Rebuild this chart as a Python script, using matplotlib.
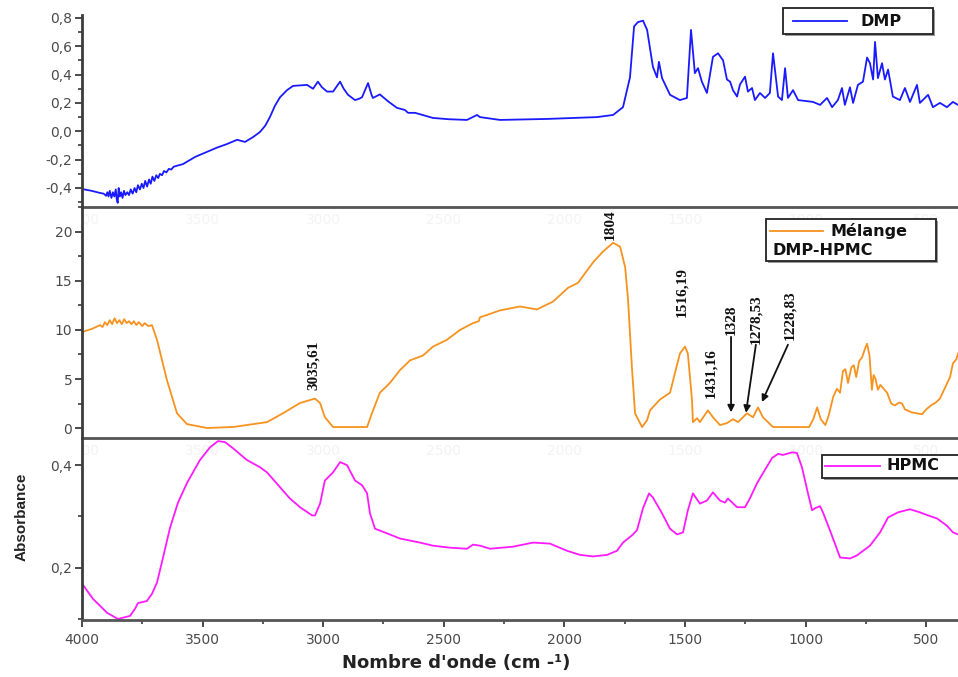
import matplotlib
matplotlib.use("Agg")
import matplotlib.pyplot as plt
from matplotlib.ticker import MultipleLocator, FuncFormatter
from matplotlib.patches import Rectangle
from matplotlib.lines import Line2D
import matplotlib.transforms as mtransforms

# ---------------- data ----------------
dmp_w = [4000, 3960, 3925, 3910, 3900, 3895, 3890, 3885, 3878, 3872, 3866, 3860, 3856, 3852,
         3848, 3843, 3838, 3832, 3826, 3820, 3812, 3805, 3798, 3790, 3782, 3775, 3768, 3760,
         3752, 3745, 3738, 3730, 3722, 3715, 3708, 3700, 3692, 3684, 3677, 3668, 3660, 3650,
         3640, 3630, 3620, 3600, 3582, 3565, 3530, 3482, 3440, 3399, 3357, 3324, 3290, 3262,
         3240, 3221, 3200, 3179, 3150, 3125, 3067, 3042, 3022, 3005, 2984, 2959, 2930, 2915,
         2897, 2868, 2850, 2839, 2814, 2800, 2794, 2765, 2730, 2694, 2661, 2648, 2619, 2545,
         2480, 2404, 2362, 2350, 2267, 2072, 1865, 1798, 1757, 1728, 1711, 1695, 1674, 1657,
         1633, 1616, 1608, 1595, 1562, 1521, 1492, 1475, 1459, 1446, 1430, 1409, 1384, 1363,
         1342, 1326, 1313, 1301, 1284, 1272, 1251, 1239, 1222, 1210, 1189, 1168, 1148, 1135,
         1114, 1098, 1085, 1073, 1052, 1031, 969, 940, 911, 890, 866, 849, 837, 816, 803, 783,
         762, 745, 733, 720, 712, 700, 683, 671, 658, 638, 609, 588, 567, 538, 526, 492, 472,
         443, 414, 389, 368]
dmp_a = [-0.407, -0.42, -0.435, -0.44, -0.455, -0.43, -0.46, -0.42, -0.47, -0.43, -0.46, -0.41,
         -0.48, -0.505, -0.40, -0.46, -0.43, -0.47, -0.42, -0.45, -0.43, -0.45, -0.41, -0.44,
         -0.40, -0.43, -0.38, -0.41, -0.37, -0.40, -0.35, -0.39, -0.34, -0.37, -0.32, -0.35,
         -0.31, -0.33, -0.30, -0.31, -0.28, -0.29, -0.265, -0.27, -0.25, -0.24, -0.232, -0.215,
         -0.18, -0.145, -0.115, -0.09, -0.06, -0.075, -0.04, -0.005, 0.04, 0.10, 0.18, 0.24,
         0.29, 0.32, 0.327, 0.30, 0.35, 0.31, 0.28, 0.28, 0.35, 0.30, 0.257, 0.22, 0.23, 0.24,
         0.34, 0.26, 0.235, 0.26, 0.21, 0.165, 0.15, 0.13, 0.13, 0.094, 0.085, 0.08, 0.115,
         0.10, 0.08, 0.087, 0.10, 0.115, 0.17, 0.38, 0.74, 0.77, 0.78, 0.715, 0.455, 0.38,
         0.49, 0.375, 0.257, 0.22, 0.235, 0.715, 0.41, 0.445, 0.35, 0.27, 0.525, 0.55, 0.50,
         0.365, 0.35, 0.29, 0.245, 0.33, 0.385, 0.28, 0.305, 0.22, 0.27, 0.235, 0.27, 0.55,
         0.245, 0.22, 0.445, 0.235, 0.29, 0.22, 0.207, 0.186, 0.235, 0.17, 0.22, 0.305, 0.186,
         0.31, 0.20, 0.327, 0.35, 0.52, 0.48, 0.365, 0.63, 0.375, 0.48, 0.365, 0.435, 0.245,
         0.22, 0.305, 0.207, 0.327, 0.20, 0.257, 0.17, 0.20, 0.17, 0.207, 0.186]

mix_w = [4000, 3960, 3925, 3915, 3905, 3895, 3885, 3875, 3865, 3855, 3845, 3835, 3825, 3815,
         3805, 3795, 3785, 3775, 3765, 3750, 3740, 3725, 3710, 3689, 3648, 3606, 3565, 3482,
         3374, 3233, 3167, 3096, 3034, 3013, 2993, 2959, 2818, 2798, 2765, 2723, 2682, 2640,
         2586, 2545, 2487, 2433, 2379, 2355, 2350, 2337, 2267, 2184, 2114, 2047, 1985, 1944,
         1881, 1840, 1798, 1769, 1748, 1736, 1720, 1707, 1678, 1657, 1645, 1604, 1562, 1521,
         1500, 1488, 1471, 1467, 1450, 1438, 1405, 1384, 1355, 1326, 1301, 1280, 1243, 1218,
         1197, 1177, 1135, 985, 968, 952, 937, 918, 905, 885, 870, 857, 845, 835, 824, 810,
         800, 790, 778, 766, 752, 745, 735, 725, 718, 710, 700, 690, 676, 662, 645, 630, 612,
         600, 588, 560, 517, 500, 480, 460, 443, 420, 401, 389, 375, 368]
mix_a = [9.8, 10.1, 10.5, 10.3, 10.8, 10.5, 11.0, 10.6, 11.2, 10.7, 11.0, 10.6, 11.1, 10.7,
         10.9, 10.6, 10.9, 10.5, 10.8, 10.4, 10.7, 10.4, 10.5, 9.0, 4.9, 1.5, 0.4, 0.0,
         0.1, 0.6, 1.5, 2.55, 3.0, 2.55, 1.1, 0.1, 0.1, 1.5, 3.6, 4.6, 5.9, 6.9,
         7.4, 8.3, 9.0, 10.0, 10.7, 10.9, 11.3, 11.4, 12.0, 12.4, 12.1, 12.9, 14.3, 14.8,
         16.9, 18.0, 18.9, 18.5, 16.4, 13.1, 6.2, 1.5, 0.1, 0.8, 1.8, 2.9, 3.6, 7.6,
         8.3, 7.6, 2.9, 0.6, 1.0, 0.6, 1.8, 1.1, 0.3, 0.5, 0.9, 0.6, 1.5, 1.1,
         2.1, 1.1, 0.1, 0.1, 0.9, 2.1, 0.9, 0.3, 1.2, 3.2, 4.0, 3.6, 5.8, 6.0, 4.6, 6.2,
         6.4, 5.2, 6.8, 7.2, 8.2, 8.6, 7.4, 3.9, 5.4, 5.0, 3.9, 4.4, 4.0, 3.6, 2.5, 2.3, 2.6,
         2.5, 1.9, 1.6, 1.4, 1.9, 2.3, 2.6, 3.0, 4.2, 5.2, 6.6, 7.0, 7.6]

hpmc_w = [4000, 3954, 3896, 3851, 3801, 3780, 3768, 3731, 3710, 3689, 3664, 3635, 3602, 3565,
          3511, 3469, 3436, 3407, 3374, 3316, 3262, 3233, 3179, 3138, 3096, 3046, 3034, 3013,
          2993, 2959, 2930, 2901, 2868, 2839, 2818, 2806, 2785, 2735, 2682, 2599, 2545, 2474,
          2404, 2379, 2350, 2308, 2213, 2130, 2060, 1989, 1935, 1881, 1823, 1782, 1757, 1720,
          1699, 1674, 1649, 1633, 1595, 1562, 1533, 1508, 1488, 1467, 1438, 1409, 1384, 1355,
          1334, 1322, 1284, 1251, 1231, 1201, 1177, 1139, 1114, 1094, 1056, 1036, 1015, 990,
          973, 961, 940, 928, 899, 857, 816, 787, 733, 691, 658, 617, 567, 526, 492, 455,
          414, 389, 368]
hpmc_a = [0.169, 0.139, 0.112, 0.100, 0.106, 0.12, 0.131, 0.135, 0.149, 0.171, 0.22, 0.278,
          0.327, 0.365, 0.41, 0.435, 0.447, 0.445, 0.433, 0.41, 0.396, 0.386, 0.357, 0.335,
          0.318, 0.302, 0.302, 0.325, 0.37, 0.386, 0.406, 0.40, 0.37, 0.361, 0.345, 0.306,
          0.276, 0.267, 0.257, 0.249, 0.243, 0.239, 0.237, 0.245, 0.243, 0.237, 0.241, 0.249,
          0.247, 0.233, 0.225, 0.222, 0.225, 0.233, 0.249, 0.263, 0.273, 0.316, 0.345, 0.337,
          0.306, 0.276, 0.265, 0.269, 0.312, 0.345, 0.325, 0.331, 0.347, 0.331, 0.327, 0.335,
          0.318, 0.318, 0.335, 0.365, 0.384, 0.414, 0.422, 0.42, 0.425, 0.424, 0.396, 0.345,
          0.312, 0.316, 0.32, 0.308, 0.273, 0.22, 0.218, 0.224, 0.243, 0.269, 0.298, 0.308,
          0.314, 0.308, 0.302, 0.296, 0.282, 0.269, 0.265]

peak_labels = ["3035,61", "1804", "1516,19", "1431,16", "1328", "1278,53", "1228,83"]
peak_label_w = [3042, 1811, 1512, 1392, 1309, 1206, 1065]
peak_label_a = [6.4, 20.7, 13.9, 5.6, 11.0, 11.1, 11.5]
arrow_tail_w = [1309, 1206, 1073]
arrow_tail_a = [9.3, 8.5, 8.5]
arrow_head_w = [1309, 1247, 1181]
arrow_head_a = [1.6, 1.55, 2.65]

xticks = [4000, 3500, 3000, 2500, 2000, 1500, 1000, 500]

# ---------------- figure ----------------
W, H = 958, 677
fig = plt.figure(figsize=(W / 100, H / 100), dpi=100)


def fx(px):
    return px / W


def fy(py):
    return 1 - py / H


left = 82
ax1 = fig.add_axes([fx(left), fy(207), 1 - fx(left), (207 - 15) / H])
ax2 = fig.add_axes([fx(left), fy(438), 1 - fx(left), (438 - 207) / H])
ax3 = fig.add_axes([fx(left), fy(620), 1 - fx(left), (620 - 438) / H])

BLUE = "#1a1aff"
ORANGE = "#f7921e"
MAGENTA = "#ff1aff"
SPINE = "#3c3c3c"
TICKC = "#4a4a4a"

ax1.plot(dmp_w, dmp_a, color=BLUE, lw=1.3)
ax2.plot(mix_w, mix_a, color=ORANGE, lw=1.3)
ax3.plot(hpmc_w, hpmc_a, color=MAGENTA, lw=1.3)

ax1.set_ylim(-0.534, 0.82)
ax2.set_ylim(-1.02, 22.55)
ax3.set_ylim(0.098, 0.453)

comma = FuncFormatter(lambda v, p: ("%.1f" % v).replace(".", ",").replace("\u2212", "-"))
ax1.yaxis.set_major_locator(MultipleLocator(0.2))
ax1.yaxis.set_minor_locator(MultipleLocator(0.1))
ax1.yaxis.set_major_formatter(comma)
ax2.yaxis.set_major_locator(MultipleLocator(5))
ax2.yaxis.set_minor_locator(MultipleLocator(2.5))
ax2.yaxis.set_major_formatter(FuncFormatter(lambda v, p: "%d" % v))
ax3.yaxis.set_major_locator(MultipleLocator(0.2))
ax3.yaxis.set_minor_locator(MultipleLocator(0.1))
ax3.yaxis.set_major_formatter(comma)

for ax in (ax1, ax2, ax3):
    ax.set_xlim(4000, 368)
    ax.set_facecolor("none")
    ax.spines["top"].set_visible(False)
    ax.spines["right"].set_visible(False)
    ax.spines["left"].set_color(SPINE)
    ax.spines["left"].set_linewidth(2.0)
    ax.spines["bottom"].set_color("#555555")
    ax.spines["bottom"].set_linewidth(2.0)
    ax.tick_params(axis="y", which="major", direction="out", length=5, width=1.3,
                   color=SPINE, labelsize=10, labelcolor=TICKC, pad=2)
    ax.tick_params(axis="y", which="minor", direction="out", length=3, width=1.2, color=SPINE)

for ax in (ax1, ax2):
    ax.tick_params(axis="x", which="both", bottom=False, labelbottom=False)

ax3.set_xticks(xticks)
ax3.xaxis.set_minor_locator(MultipleLocator(250))
ax3.tick_params(axis="x", which="major", direction="out", length=5, width=1.3,
                color=SPINE, labelsize=10, labelcolor=TICKC, pad=4)
ax3.tick_params(axis="x", which="minor", direction="out", length=3, width=1.2, color=SPINE)

# faint ghost tick labels at the top of the lower panels
for ax, hpx in ((ax2, 231), (ax3, 182)):
    tr = mtransforms.blended_transform_factory(ax.transData, ax.transAxes)
    for w in xticks:
        ax.text(w, 1 - 13 / hpx, str(w), transform=tr, ha="center", va="center",
                fontsize=10, color="#f3f3f3", zorder=0, clip_on=True)

# peak labels and arrows
for lab, w, a in zip(peak_labels, peak_label_w, peak_label_a):
    ax2.text(w, a, lab, rotation=90, ha="center", va="center", fontsize=11,
             family=["Liberation Serif", "DejaVu Serif"], fontweight="bold", color="#111111")
for tw, ta, hw, ha_ in zip(arrow_tail_w, arrow_tail_a, arrow_head_w, arrow_head_a):
    ax2.annotate("", xy=(hw, ha_), xytext=(tw, ta),
                 arrowprops=dict(arrowstyle="-|>", color="#111111", lw=1.3,
                                 mutation_scale=10, shrinkA=0, shrinkB=0))

# axis labels
fig.text(fx(22), fy(517), "Absorbance", rotation=90, ha="center", va="center",
         fontsize=11, fontweight="bold", family=["Liberation Sans", "DejaVu Sans"],
         color="#222222")
fig.text(fx(456), fy(663), "Nombre d'onde (cm -\u00b9)", ha="center", va="center",
         fontsize=13, fontweight="bold", family=["DejaVu Sans"], color="#222222")


# legend boxes
def legend_box(x0, y0, x1, y1):
    sh = Rectangle((fx(x0 + 2), fy(y1 + 2)), fx(x1 - x0), (y1 - y0) / H,
                   transform=fig.transFigure, facecolor="#9a9a9a", edgecolor="none", zorder=5)
    bx = Rectangle((fx(x0), fy(y1)), fx(x1 - x0), (y1 - y0) / H,
                   transform=fig.transFigure, facecolor="white", edgecolor="#222222",
                   lw=1.3, zorder=6)
    fig.add_artist(sh)
    fig.add_artist(bx)


def legend_line(x0, x1, y, color):
    fig.add_artist(Line2D([fx(x0), fx(x1)], [fy(y), fy(y)], transform=fig.transFigure,
                          color=color, lw=1.3, zorder=7))


def legend_text(x, y, s):
    fig.text(fx(x), fy(y), s, ha="left", va="center", fontsize=11.5, fontweight="bold",
             color="#111111", zorder=8, family=["DejaVu Sans"])


legend_box(783, 8, 933, 34)
legend_line(793, 847, 21, BLUE)
legend_text(860, 21, "DMP")

legend_box(766, 219, 936, 261)
legend_line(770, 823, 231, ORANGE)
legend_text(830, 231, "Mélange")
legend_text(772, 250, "DMP-HPMC")

legend_box(822, 455, 962, 478)
legend_line(825, 880, 466, MAGENTA)
legend_text(887, 466, "HPMC")

fig.savefig("out.png", dpi=100)
